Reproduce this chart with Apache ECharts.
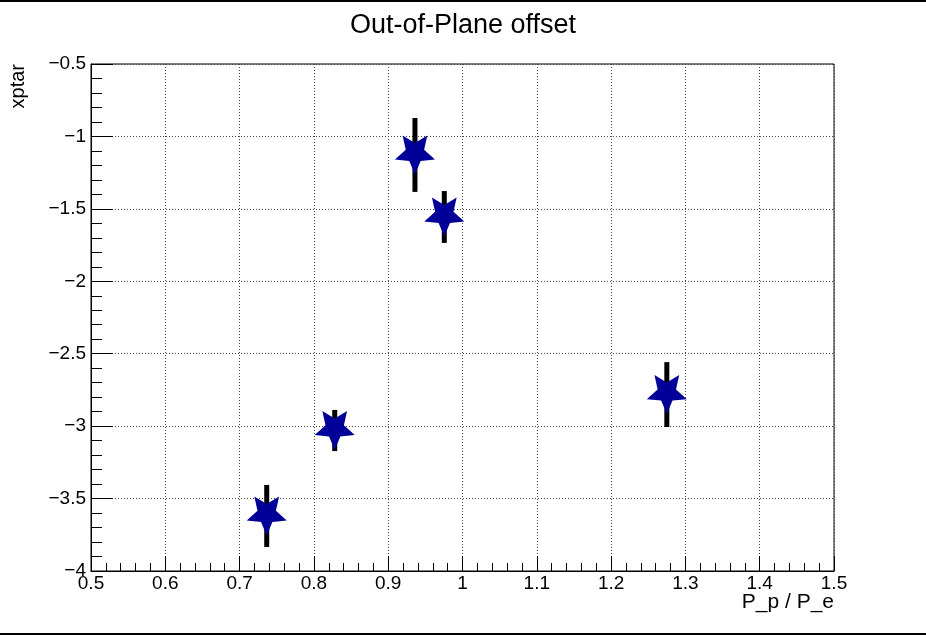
<!DOCTYPE html>
<html>
<head>
<meta charset="utf-8">
<script src="https://cdn.jsdelivr.net/npm/echarts@6/dist/echarts.min.js"></script>
<style>
html,body{margin:0;padding:0;background:#fff;}
#chart{width:926px;height:635px;}
</style>
</head>
<body>
<div id="chart"></div>
<script>
// ---- data ----
var titleText = 'Out-of-Plane offset';
var xTitle = 'P_p / P_e';
var yTitle = 'xptar';
var xVals = [0.7365, 0.828, 0.936, 0.9755, 1.275];
var yVals = [-3.620, -3.030, -1.128, -1.556, -2.782];
var yErrs = [0.214, 0.142, 0.255, 0.179, 0.224];

// ---- build ----
var FONT = 'Liberation Sans';
function starPath() {
  // five-pointed star, pointing down
  var pts = [];
  var R = 1, r = 0.46;
  for (var i = 0; i < 10; i++) {
    var rad = (i % 2 === 0) ? R : r;
    var a = Math.PI / 2 + i * Math.PI / 5;
    pts.push((rad * Math.cos(a)).toFixed(4) + ' ' + (rad * Math.sin(a)).toFixed(4));
  }
  return 'path://M' + pts.join(' L') + ' Z';
}
var pts = xVals.map(function (x, i) { return [x, yVals[i]]; });
var errData = xVals.map(function (x, i) { return [x, yVals[i] - yErrs[i], yVals[i] + yErrs[i]]; });
function minusFmt(v) {
  var s = String(Math.round(v * 1000) / 1000);
  return s.replace('-', '\u2212');
}

var chart = echarts.init(document.getElementById('chart'), null, {renderer: 'canvas'});
chart.setOption({
  animation: false,
  backgroundColor: '#fff',
  title: {
    text: titleText,
    left: 'center',
    top: 7,
    textStyle: {fontFamily: FONT, fontSize: 27, fontWeight: 'normal', color: '#000'}
  },
  grid: {
    left: 91, right: 92, top: 64, bottom: 64,
    outerBoundsMode: 'none',
    show: true, borderColor: '#000', borderWidth: 1, backgroundColor: 'transparent'
  },
  xAxis: {
    type: 'value', min: 0.5, max: 1.5, interval: 0.1,
    axisLine: {show: true, onZero: false, lineStyle: {color: '#000', width: 1}},
    axisTick: {show: true, inside: true, length: 15, lineStyle: {color: '#000'}},
    minorTick: {show: true, splitNumber: 5, length: 8, lineStyle: {color: '#000'}},
    axisLabel: {fontFamily: FONT, fontSize: 19, color: '#000', margin: 3, formatter: minusFmt, showMinLabel: true, showMaxLabel: true},
    splitLine: {show: true, lineStyle: {color: '#444', width: 1, type: [1, 2]}}
  },
  yAxis: {
    type: 'value', min: -4, max: -0.5, interval: 0.5,
    axisLine: {show: true, onZero: false, lineStyle: {color: '#000', width: 1}},
    axisTick: {show: true, inside: true, length: 22, lineStyle: {color: '#000'}},
    minorTick: {show: true, splitNumber: 5, length: 11, lineStyle: {color: '#000'}},
    axisLabel: {fontFamily: FONT, fontSize: 19, color: '#000', margin: 5, formatter: minusFmt, showMinLabel: true, showMaxLabel: true},
    splitLine: {show: true, lineStyle: {color: '#444', width: 1, type: [1, 2]}}
  },
  graphic: [
    {type: 'text', x: 18, y: 64, rotation: Math.PI / 2,
     style: {text: yTitle, fill: '#000', font: '20px "Liberation Sans"', align: 'right', verticalAlign: 'middle'}},
    {type: 'text', x: 834, y: 592,
     style: {text: xTitle, fill: '#000', font: '21px "Liberation Sans"', align: 'right', verticalAlign: 'top'}},
    {type: 'rect', shape: {x: 0, y: 0, width: 926, height: 2}, style: {fill: '#000'}, silent: true},
    {type: 'rect', shape: {x: 0, y: 633, width: 926, height: 2}, style: {fill: '#000'}, silent: true}
  ],
  series: [
    {
      type: 'custom',
      z: 2,
      data: errData,
      renderItem: function (params, api) {
        var lo = api.coord([api.value(0), api.value(1)]);
        var hi = api.coord([api.value(0), api.value(2)]);
        return {
          type: 'rect',
          shape: {x: lo[0] - 2.5, y: hi[1], width: 5, height: lo[1] - hi[1]},
          style: {fill: '#000'}
        };
      }
    },
    {
      type: 'scatter',
      z: 3,
      data: pts,
      symbol: starPath(),
      symbolSize: [40, 39],
      itemStyle: {color: '#000099', opacity: 1}
    }
  ]
});
</script>
</body>
</html>
